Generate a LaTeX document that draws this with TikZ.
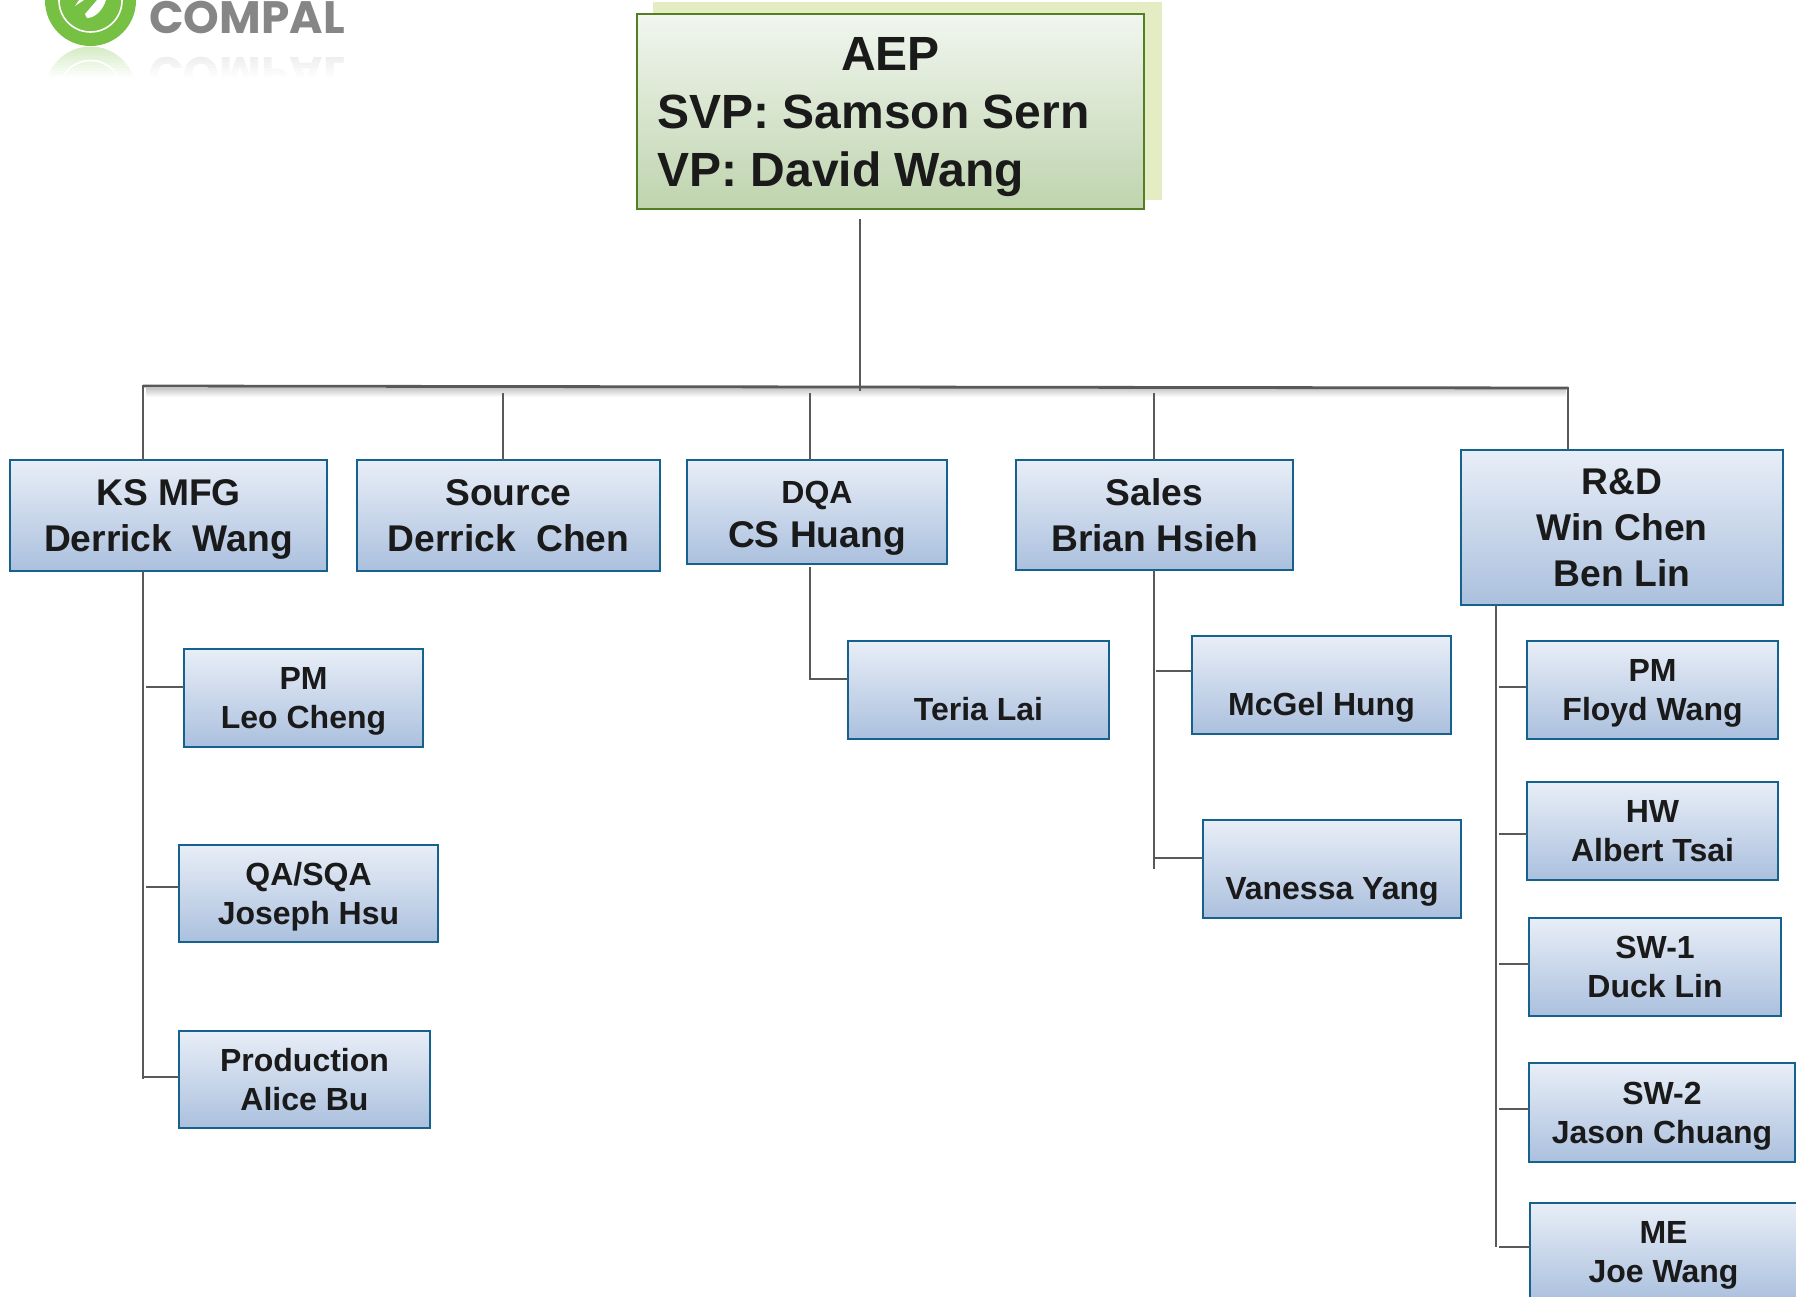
\documentclass[tikz,border=0pt]{standalone}
\usepackage{fontspec}
\setmainfont{Liberation Sans}
\newfontfamily\logofont{Poppins}
\definecolor{inkc}{HTML}{1A1A1A}
\definecolor{linec}{HTML}{595959}
\definecolor{blueedge}{HTML}{15628F}
\definecolor{bluetop}{HTML}{E8EEF7}
\definecolor{bluebot}{HTML}{ABC0DE}
\definecolor{greenedge}{HTML}{537F22}
\definecolor{greentop}{HTML}{F1F6EF}
\definecolor{greenbot}{HTML}{BFD4AE}
\definecolor{backc}{HTML}{E3ECC2}
\definecolor{logog}{HTML}{76C043}
\tikzset{
  x=0.5pt, y=-0.5pt,
  orgnode/.style={draw=blueedge, line width=0.9pt, top color=bluetop, bottom color=bluebot,
    inner sep=0pt, outer sep=0pt, align=center, text=inkc, font=\fontsize{18.6}{23}\bfseries\selectfont},
  midnode/.style={orgnode, font=\fontsize{16}{19.5}\bfseries\selectfont},
  topnode/.style={draw=greenedge, line width=1pt, top color=greentop, bottom color=greenbot,
    inner sep=0pt, outer sep=0pt, align=left, text=inkc, font=\fontsize{24}{29}\bfseries\selectfont},
  conn/.style={draw=linec, line width=0.9pt},
  busline/.style={draw=linec, line width=1.4pt},
  logotype/.style={anchor=base west, inner sep=0pt, font=\logofont\fontsize{22.7}{26}\bfseries\selectfont},
}
\newcommand{\tstrut}{\rule[-.21\baselineskip]{0pt}{\baselineskip}}
\newcommand{\orgbox}[7][orgnode]{%
  \node[#1, minimum width={(#5-#3)*0.5pt}, minimum height={(#6-#4)*0.5pt}] (#2)
    at ({(#3+#5)/2},{(#4+#6)/2}) {\tstrut #7\tstrut};}
\begin{document}
\begin{tikzpicture}
\useasboundingbox (0,0) rectangle (1796,1297);
\fill[white] (0,0) rectangle (1796,1297);

% logo
\begin{scope}
\clip (0,0) rectangle (400,78);
\fill[logog] (90.5,0.5) circle[radius=45.5];
\draw[white, line width=0.8pt] (90.5,0.5) circle[radius=31.5];
\fill[white] (85,14) -- (97,0) -- (106,0) .. controls (103,10) and (95,18) .. (87,18) -- cycle;
\fill[white] (75,6) -- (79,0) -- (84,0) -- cycle;
\node[logotype, text=gray!95] (logotext) at (149,33) {COMPAL};
% reflection
\fill[logog!30] (90.5,92) circle[radius=45.5];
\draw[white, line width=0.8pt] (90.5,92) circle[radius=31.5];
\node[logotype, yscale=-1, transform shape, text=gray!18] (logoecho) at (149,57) {COMPAL};
\foreach \i in {0,...,10} {
  \fill[white, opacity=\i/10] (40,{47+\i*3}) rectangle (360,{47+(\i+1)*3});
}
\end{scope}

% top box
\fill[backc] (653,2) rectangle (1162,200);
\orgbox[topnode]{aep}{637}{14}{1144}{208.5}{%
  \makebox[244pt]{AEP}\\\hspace*{5.5pt}SVP: Samson Sern\\\hspace*{5.5pt}VP: David Wang}

% second level
\orgbox{ksm}{10}{460}{327}{571}{KS MFG\\Derrick\ \ Wang}
\orgbox{src}{357}{460}{660}{571}{Source\\Derrick\ \ Chen}
\orgbox{dqa}{687}{460}{947}{564}{{\fontsize{16}{19}\bfseries\selectfont DQA}\\[-0.8pt]CS Huang}
\orgbox{sal}{1016}{460}{1293}{570}{Sales\\Brian Hsieh}
\orgbox{rnd}{1461}{450}{1783}{605}{R\&D\\Win Chen\\Ben Lin}

% third level
\orgbox[midnode]{pml}{184}{649}{423}{747}{PM\\Leo Cheng}
\orgbox[midnode]{qas}{179}{845}{438}{942}{QA/SQA\\Joseph Hsu}
\orgbox[midnode]{prd}{179}{1031}{430}{1128}{Production\\Alice Bu}
\orgbox[midnode]{ter}{848}{641}{1109}{739}{\\Teria Lai}
\orgbox[midnode]{mcg}{1192}{636}{1451}{734}{\\McGel Hung}
\orgbox[midnode]{van}{1203}{820}{1461}{918}{\\Vanessa Yang}
\orgbox[midnode]{pmf}{1527}{641}{1778}{739}{PM\\Floyd Wang}
\orgbox[midnode]{hwa}{1527}{782}{1778}{880}{HW\\Albert Tsai}
\orgbox[midnode]{swa}{1529}{918}{1781}{1016}{SW-1\\Duck Lin}
\orgbox[midnode]{swb}{1529}{1063}{1795}{1162}{SW-2\\Jason Chuang}
\orgbox[midnode]{mew}{1530}{1203}{1797}{1301}{ME\\Joe Wang}

% connector anchors
\coordinate (rootdown) at (860,219);
\coordinate (rootbus) at (860,391);
\coordinate (busl) at (143,386);
\coordinate (busr) at (1568,388);
\coordinate (ksup) at (143,385);
\coordinate (srcup) at (503,393);
\coordinate (dqaup) at (810,393);
\coordinate (salup) at (1154,393);
\coordinate (rndup) at (1568,387);
\coordinate (ksend) at (143,1079);
\coordinate (dqaelbow) at (810,679);
\coordinate (salend) at (1154,869);
\coordinate (rndend) at (1496,1247);
\coordinate (bpml) at (146,687);
\coordinate (bqas) at (146,887);
\coordinate (bprd) at (143,1077);
\coordinate (bmcg) at (1156,671);
\coordinate (bvan) at (1154,858);
\coordinate (bpmf) at (1499,687);
\coordinate (bhwa) at (1499,834);
\coordinate (bswa) at (1499,964);
\coordinate (bswb) at (1499,1109);
\coordinate (bmew) at (1499,1247);

% bus shadow
\fill[top color=gray!45, bottom color=white, draw=none] (146,388) rectangle (1566,397);

% connectors
\draw[busline] (busl) -- (busr);
\draw[conn] (rootdown) -- (rootbus);
\draw[conn] (ksup) -- (ksup |- ksm.north);
\draw[conn] (srcup) -- (srcup |- src.north);
\draw[conn] (dqaup) -- (dqaup |- dqa.north);
\draw[conn] (salup) -- (salup |- sal.north);
\draw[conn] (rndup) -- (rndup |- rnd.north);
\draw[conn] (ksend |- ksm.south) -- (ksend);
\draw[conn] (bpml) -- (bpml -| pml.west);
\draw[conn] (bqas) -- (bqas -| qas.west);
\draw[conn] (bprd) -- (bprd -| prd.west);
\draw[conn] (dqaelbow |- dqa.south) ++(0,3) -- (dqaelbow) -- (dqaelbow -| ter.west);
\draw[conn] (salend |- sal.south) -- (salend);
\draw[conn] (bmcg) -- (bmcg -| mcg.west);
\draw[conn] (bvan) -- (bvan -| van.west);
\draw[conn] (rndend |- rnd.south) -- (rndend);
\draw[conn] (bpmf) -- (bpmf -| pmf.west);
\draw[conn] (bhwa) -- (bhwa -| hwa.west);
\draw[conn] (bswa) -- (bswa -| swa.west);
\draw[conn] (bswb) -- (bswb -| swb.west);
\draw[conn] (bmew) -- (bmew -| mew.west);
\end{tikzpicture}
\end{document}
